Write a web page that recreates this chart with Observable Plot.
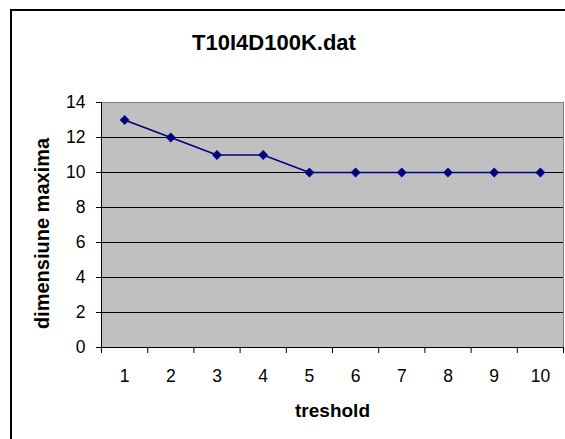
<!DOCTYPE html>
<html><head><meta charset="utf-8">
<script src="https://cdn.jsdelivr.net/npm/d3@7"></script>
<script src="https://cdn.jsdelivr.net/npm/@observablehq/plot@0.6"></script>
<style>
body{margin:0;background:#fff;}
#wrap{position:relative;width:565px;height:439px;overflow:hidden;background:#fff;}
#border{position:absolute;left:10px;top:9px;width:700px;height:600px;border:2px solid #000;}
#chart{position:absolute;left:0;top:0;}
</style></head><body>
<div id="wrap"><div id="border"></div><div id="chart"></div></div>
<script>
const title = "T10I4D100K.dat";
const xLabel = "treshold";
const yLabel = "dimensiune maxima";
const threshold = [1, 2, 3, 4, 5, 6, 7, 8, 9, 10];
const dimensiune = [13, 12, 11, 11, 10, 10, 10, 10, 10, 10];
const yTicks = [0, 2, 4, 6, 8, 10, 12, 14];

const xBounds = threshold.map(t => t - 0.5).concat([threshold[threshold.length - 1] + 0.5]);
const data = threshold.map((t, i) => ({t, v: dimensiune[i]}));
const font = "'Liberation Sans', Arial, sans-serif";

const chart = Plot.plot({
  width: 565, height: 439,
  marginLeft: 101, marginRight: 2, marginTop: 102, marginBottom: 92,
  style: {fontFamily: font, fontSize: "17px", color: "#000", background: "transparent", overflow: "visible"},
  x: {domain: [xBounds[0], xBounds[xBounds.length - 1]]},
  y: {domain: [0, 14]},
  marks: [
    Plot.frame({fill: "#c0c0c0", stroke: "#808080"}),
    Plot.gridY(yTicks.filter(d => d > 0 && d < 14), {stroke: "#000", strokeOpacity: 1}),
    Plot.ruleX([xBounds[0]], {stroke: "#000"}),
    Plot.ruleY([0], {stroke: "#000"}),
    Plot.axisY(yTicks, {tickSize: 5, tickPadding: 11, fontSize: 17.5, label: null}),
    Plot.axisX(xBounds, {tickSize: 6, tickFormat: () => "", label: null}),
    Plot.axisX(threshold, {tickSize: 0, tickPadding: 22, fontSize: 17.5, label: null}),
    Plot.line(data, {x: "t", y: "v", stroke: "#000080", strokeWidth: 1.5}),
    Plot.dot(data, {x: "t", y: "v", symbol: "diamond2", r: 4.2, fill: "#000080", stroke: "#000080", strokeWidth: 0.5}),
    Plot.text([title], {frameAnchor: "top", textAnchor: "middle", lineAnchor: "middle", dx: -58.5, dy: -60, fontSize: 22, fontWeight: "bold"}),
    Plot.text([yLabel], {frameAnchor: "left", textAnchor: "middle", lineAnchor: "middle", dx: -58.5, dy: 8.5, rotate: -90, fontSize: 20, fontWeight: "bold"}),
    Plot.text([xLabel], {frameAnchor: "bottom", textAnchor: "middle", lineAnchor: "middle", dy: 63.5, fontSize: 19, fontWeight: "bold"})
  ]
});
document.getElementById("chart").appendChild(chart);
</script>
</body></html>
